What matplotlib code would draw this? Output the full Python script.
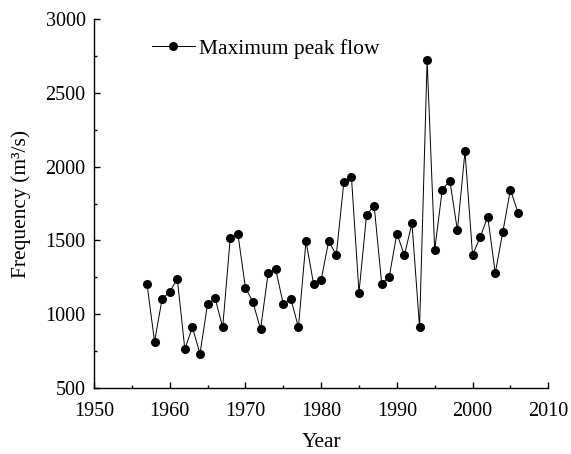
import matplotlib
matplotlib.use("Agg")
import matplotlib.pyplot as plt
from matplotlib.ticker import MultipleLocator

years = list(range(1957, 2007))
peak_flow = [1205, 814, 1105, 1150, 1241, 764, 911, 732, 1069, 1108,
             911, 1519, 1546, 1180, 1081, 898, 1277, 1304, 1069, 1105,
             911, 1496, 1205, 1232, 1496, 1401, 1894, 1932, 1146, 1674,
             1735, 1207, 1254, 1546, 1401, 1616, 911, 2722, 1435, 1844,
             1905, 1568, 2103, 1401, 1521, 1661, 1279, 1559, 1844, 1688]

plt.rcParams['font.family'] = ['Liberation Serif', 'DejaVu Serif']
plt.rcParams['font.size'] = 14.5

fig = plt.figure(figsize=(5.71, 4.54), dpi=100)
ax = fig.add_axes([0.1646, 0.1454, 0.7956, 0.8126])

ax.plot(years, peak_flow, color='black', linewidth=0.7, marker='o',
        markersize=5.5, label='Maximum peak flow')

ax.set_xlim(1950, 2010)
ax.set_ylim(500, 3000)
ax.xaxis.set_major_locator(MultipleLocator(10))
ax.xaxis.set_minor_locator(MultipleLocator(5))
ax.yaxis.set_major_locator(MultipleLocator(500))
ax.yaxis.set_minor_locator(MultipleLocator(250))

for side in ['top', 'right']:
    ax.spines[side].set_visible(False)
for side in ['left', 'bottom']:
    ax.spines[side].set_linewidth(1.0)

ax.tick_params(which='major', direction='in', length=4, width=1.0, labelsize=14.5)
ax.tick_params(which='minor', direction='in', length=2.5, width=1.0)
ax.tick_params(axis='x', pad=10)
ax.tick_params(axis='y', pad=6)

ax.set_xlabel('Year', fontsize=15.5)
ax.set_ylabel('Frequency (m³/s)', fontsize=15.5)
ax.xaxis.set_label_coords(0.5, -0.121)
ax.yaxis.set_label_coords(-0.138, 0.5)

ax.legend(loc='upper left', frameon=False, fontsize=15.5, handlelength=2.0,
          handletextpad=0.2, borderaxespad=0, bbox_to_anchor=(0.108, 0.97))

fig.savefig('out.png', dpi=100)
